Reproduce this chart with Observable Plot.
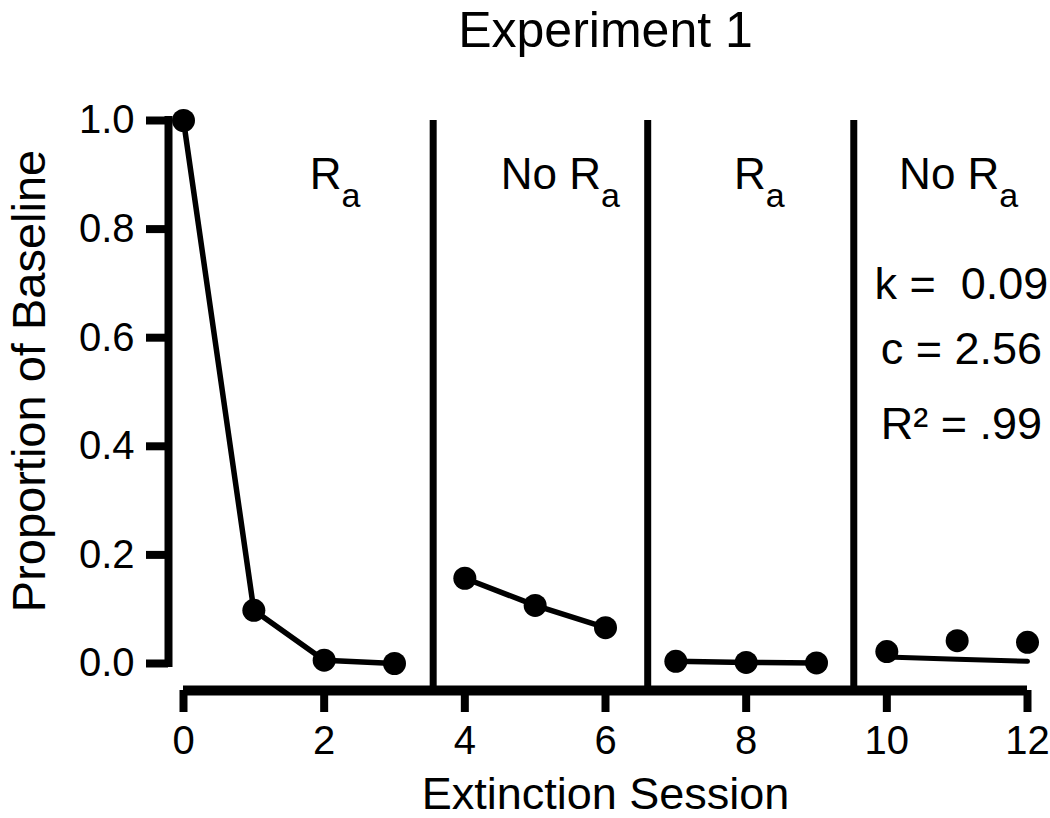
<!DOCTYPE html>
<html>
<head>
<meta charset="utf-8">
<script src="https://cdn.jsdelivr.net/npm/d3@7"></script>
<script src="https://cdn.jsdelivr.net/npm/@observablehq/plot@0.6"></script>
<style>
  html, body { margin: 0; padding: 0; background: #fff; }
  #chart { width: 1050px; height: 818px; }
</style>
</head>
<body>
<div id="chart"></div>
<script>
// ---- data ----
const sessions    = [0, 1, 2, 3, 4, 5, 6, 7, 8, 9, 10, 11, 12];
const proportions = [1.0, 0.098, 0.006, 0.0, 0.157, 0.107, 0.066, 0.004, 0.002, 0.001, 0.022, 0.042, 0.039];
const phases      = [1, 1, 1, 1, 2, 2, 2, 3, 3, 3, 4, 4, 4];
const connectedPhases = [1, 2, 3];
const fitSessions = [10, 11, 12];
const fitValues   = [0.012, 0.008, 0.004];
const phaseBreaks = [3.55, 6.6, 9.53];
const phaseLabels = ["R", "No R", "R", "No R"];
const phaseLabelX = [2.246, 5.936, 8.28, 11.60];
const phaseLabelY = 0.873;
const statLines = ["k = \u00a00.09", "c = 2.56", "R\u00b2 = .99"];
const statY = [0.672, 0.552, 0.414];
const statX = 11.06;
const xTicks = [0, 2, 4, 6, 8, 10, 12];
const yTicks = [0, 0.2, 0.4, 0.6, 0.8, 1.0];
const title = "Experiment 1";
const xLabel = "Extinction Session";
const yLabel = "Proportion of Baseline";

const points = sessions.map((s, i) => ({session: s, value: proportions[i], phase: phases[i]}));
const linePoints = points.filter(d => connectedPhases.includes(d.phase));
const fitPoints = fitSessions.map((s, i) => ({session: s, value: fitValues[i]}));
const labels = phaseLabels.map((t, i) => ({x: phaseLabelX[i], text: t}));
const stats = statLines.map((t, i) => ({text: t, y: statY[i]}));

const font = "Liberation Sans, Arial, Helvetica, sans-serif";

const chart = Plot.plot({
  width: 1050,
  height: 818,
  marginLeft: 183,
  marginRight: 23,
  marginTop: 120,
  marginBottom: 155,
  style: {fontFamily: font, background: "#fff", color: "#000", overflow: "visible"},
  x: {domain: [0, 12]},
  y: {domain: [0, 1]},
  marks: [
    // phase change lines
    Plot.ruleX(phaseBreaks, {y1: -0.05, y2: 1.0, strokeWidth: 7, stroke: "#000"}),
    // y axis
    Plot.ruleX([0], {y1: 0, y2: 1, dx: -15, strokeWidth: 8, strokeLinecap: "square", stroke: "#000"}),
    Plot.axisY({ticks: yTicks, tickFormat: d3.format(".1f"), tickSize: 22, strokeWidth: 8, dx: -15,
      tickPadding: 12, fontSize: 40, label: null}),
    // x axis
    Plot.ruleY([0], {x1: 0, x2: 12, dy: 27, strokeWidth: 10, stroke: "#000"}),
    Plot.axisX({ticks: xTicks, tickSize: 22, strokeWidth: 8, dy: 27, tickPadding: 13, fontSize: 40, label: null}),
    // data
    Plot.line(linePoints, {x: "session", y: "value", z: "phase", stroke: "#000", strokeWidth: 5.5}),
    Plot.line(fitPoints, {x: "session", y: "value", stroke: "#000", strokeWidth: 5}),
    Plot.dot(points, {x: "session", y: "value", r: 11.5, fill: "#000", stroke: null}),
    // phase labels with subscript
    Plot.text(labels, {x: "x", y: () => phaseLabelY, text: "text", textAnchor: "end", lineAnchor: "bottom", fontSize: 44, fill: "#000"}),
    Plot.text(labels, {x: "x", y: () => phaseLabelY, text: () => "a", textAnchor: "start", lineAnchor: "bottom", dy: 18, fontSize: 34, fill: "#000"}),
    // fit statistics
    Plot.text(stats, {x: () => statX, y: "y", text: "text", textAnchor: "middle", lineAnchor: "bottom", fontSize: 45, fill: "#000"}),
    // titles
    Plot.text([title], {frameAnchor: "top", textAnchor: "middle", lineAnchor: "bottom", dy: -74, fontSize: 50, fill: "#000"}),
    Plot.text([xLabel], {frameAnchor: "bottom", textAnchor: "middle", lineAnchor: "bottom", dy: 145, fontSize: 45, fill: "#000"}),
    Plot.text([yLabel], {frameAnchor: "left", textAnchor: "middle", rotate: -90, lineAnchor: "middle", dx: -154, dy: -11, fontSize: 47, fill: "#000"})
  ]
});
document.getElementById("chart").appendChild(chart);
</script>
</body>
</html>
